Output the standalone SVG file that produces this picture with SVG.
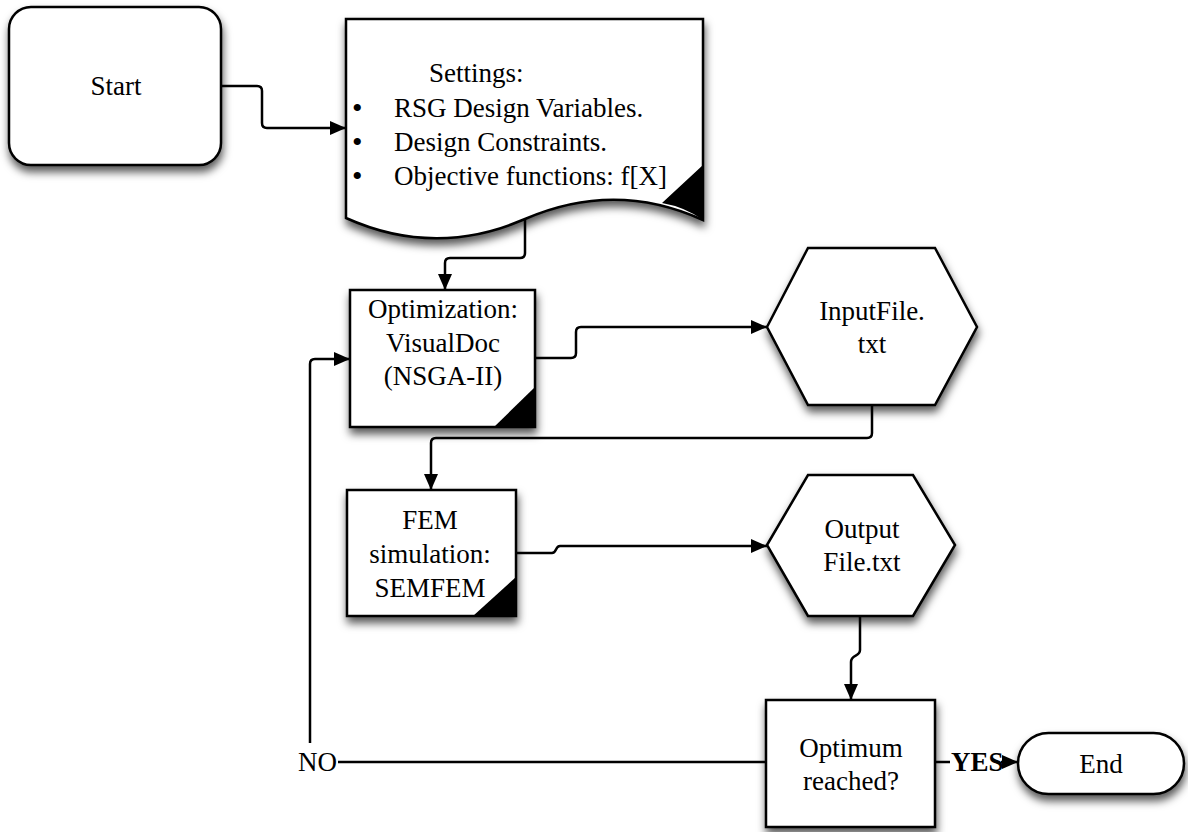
<svg xmlns="http://www.w3.org/2000/svg" width="1188" height="832" viewBox="0 0 1188 832">
<style>
.shape{fill:#fff;stroke:#000;stroke-width:2.5;filter:url(#sh)}
.corner{fill:#000;stroke:none}
text{font-family:'Liberation Serif','DejaVu Serif',serif;font-size:27px;fill:#000}
text.b{font-size:30px}
text.y{font-weight:bold}
.c{text-anchor:middle}
.con{fill:none;stroke:#000;stroke-width:2.5;stroke-linejoin:round}
.arr{marker-end:url(#ah)}
</style>
<defs>
<filter id="sh" x="-20%" y="-20%" width="140%" height="150%">
<feDropShadow dx="1" dy="6" stdDeviation="4" flood-color="#000" flood-opacity="0.65"/>
</filter>
<marker id="ah" markerUnits="userSpaceOnUse" markerWidth="18" markerHeight="16" refX="16" refY="7" orient="auto">
<path d="M0,0 L16,7 L0,14 Z" fill="#000"/>
</marker>
</defs>
<rect width="1188" height="832" fill="#fff"/>

<g id="start">
<rect class="shape" x="9" y="7" width="212" height="158" rx="22"/>
<text class="c" x="116" y="95">Start</text>
</g>

<g id="settings">
<path class="shape" d="M346,19 H703 V220 Q615,180 525,219 Q435,258 346,218 Z"/>
<path class="corner" d="M662,203 L703,165 L703,220 Q685,207 662,203 Z"/>
<text x="429" y="82">Settings:</text>
<text class="b" x="352" y="118">•</text>
<text x="394" y="117">RSG Design Variables.</text>
<text class="b" x="352" y="152">•</text>
<text x="394" y="151">Design Constraints.</text>
<text class="b" x="352" y="186">•</text>
<text x="394" y="185">Objective functions: f[X]</text>
</g>

<g id="optimization">
<rect class="shape" x="350" y="290" width="185" height="137"/>
<path class="corner" d="M494,427 L535,387 L535,427 Z"/>
<text class="c" x="443" y="318">Optimization:</text>
<text class="c" x="443" y="352">VisualDoc</text>
<text class="c" x="443" y="385">(NSGA-II)</text>
</g>

<g id="inputfile">
<polygon class="shape" points="767,327 808,248 935,248 977,327 935,405 808,405"/>
<text class="c" x="872" y="320">InputFile.</text>
<text class="c" x="872" y="353">txt</text>
</g>

<g id="fem">
<rect class="shape" x="347" y="490" width="169" height="126"/>
<path class="corner" d="M473,616 L516,577 L516,616 Z"/>
<text class="c" x="430" y="529">FEM</text>
<text class="c" x="430" y="563">simulation:</text>
<text class="c" x="430" y="597">SEMFEM</text>
</g>

<g id="outputfile">
<polygon class="shape" points="767,545 808,475 913,475 955,545 913,616 808,616"/>
<text class="c" x="862" y="538">Output</text>
<text class="c" x="862" y="571">File.txt</text>
</g>

<g id="decision">
<rect class="shape" x="766" y="700" width="169" height="127"/>
<text class="c" x="851" y="757">Optimum</text>
<text class="c" x="851" y="790">reached?</text>
</g>

<g id="end">
<rect class="shape" x="1018" y="733" width="166" height="61" rx="30.5"/>
<text class="c" x="1101" y="773">End</text>
</g>

<g id="connectors">
<path class="con arr" d="M221,86 H257 Q262,86 262,91 V123 Q262,128 267,128 H346"/>
<path class="con arr" d="M525,220 V253 Q525,258 520,258 H450 Q445,258 445,263 V290"/>
<path class="con arr" d="M535,358 H571 Q576,358 576,353 V332 Q576,327 581,327 H767"/>
<path class="con arr" d="M872,405 V433 Q872,438 867,438 H436 Q431,438 431,443 V490"/>
<path class="con arr" d="M516,553 H552 C557,553 555,546 560,546 H767"/>
<path class="con arr" d="M860,616 V650 C860,657 851,654 851,662 V700"/>
<path class="con arr" d="M766,762 H310 V364 Q310,359 315,359 H350"/>
<path class="con arr" d="M935,762 H1018"/>
<rect x="296" y="743" width="42" height="34" fill="#fff"/>
<text x="298" y="771">NO</text>
<rect x="950" y="748" width="51" height="28" fill="#fff"/>
<text class="y" x="951" y="771">YES</text>
</g>
</svg>
